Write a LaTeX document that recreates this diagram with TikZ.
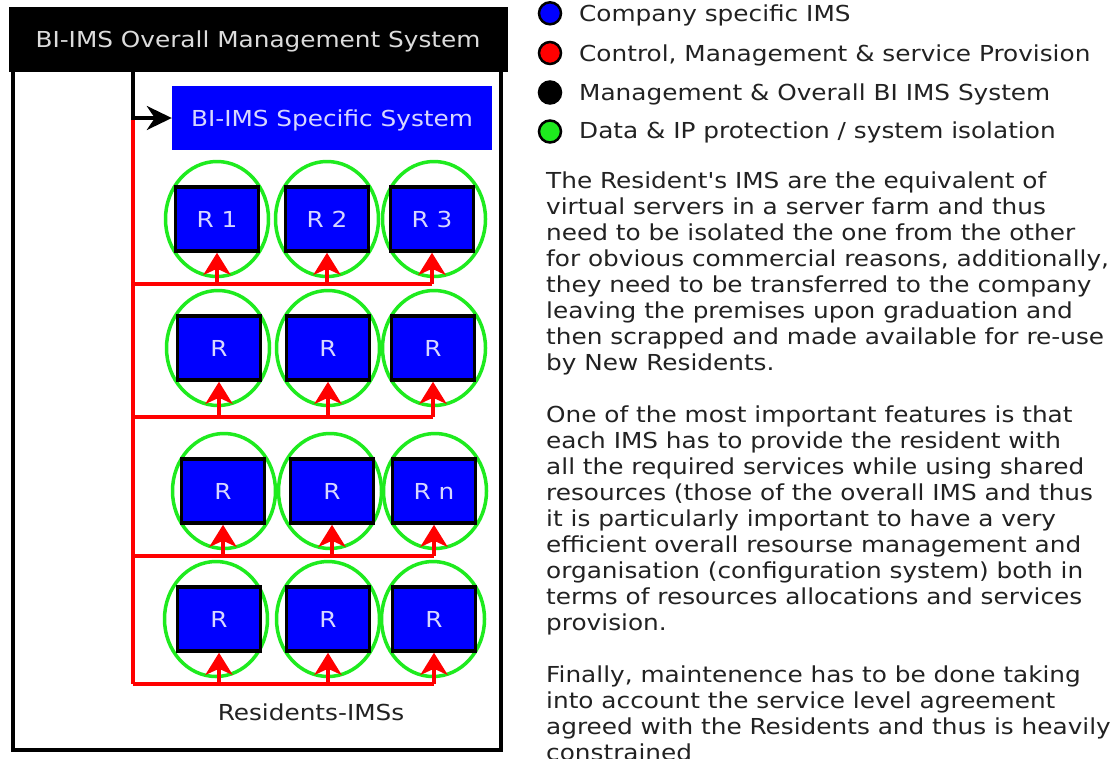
\documentclass[tikz,border=0pt]{standalone}
\usepackage{fontspec}
\newfontfamily\dv[FakeStretch=1.125]{DejaVu Sans}
\usetikzlibrary{arrows.meta,shapes.geometric}
\definecolor{bblue}{RGB}{0,0,255}
\definecolor{rred}{RGB}{255,0,0}
\definecolor{ggreen}{RGB}{30,235,30}
\definecolor{txt}{RGB}{34,34,34}
\definecolor{hdtxt}{RGB}{220,220,220}
\definecolor{bxtxt}{RGB}{215,215,255}
\begin{document}
\begin{tikzpicture}[x=1pt,y=-1pt,
  font=\dv\fontsize{22}{26}\selectfont,
  rbox/.style={draw=black, line width=3.5pt, fill=bblue, minimum width=83pt, minimum height=64pt, inner sep=0pt, text=bxtxt, text height=16pt, text depth=0pt},
  iso/.style={draw=ggreen, line width=3.5pt, ellipse, minimum width=103pt, minimum height=115pt, inner sep=0pt},
  bus/.style={draw=rred, line width=4pt},
  feed/.style={draw=rred, line width=4pt, -{Stealth[length=22pt,width=27pt,inset=6pt]}},
  legdot/.style={circle, draw=black, line width=2.5pt, minimum size=22pt, inner sep=0pt},
  legtxt/.style={anchor=base west, inner sep=0pt, text=txt},
]
\useasboundingbox (0,0) rectangle (1110,758);
\fill[white] (0,0) rectangle (1110,758);

% frame and header
\draw[line width=3.5pt] (13,60) rectangle (501,750);
\node[fill=black, minimum width=499pt, minimum height=65pt, inner sep=0pt, text=hdtxt, text height=16pt, text depth=0pt] (hdr) at (258,39.5) {BI-IMS Overall Management System};
\node[fill=bblue, minimum width=320pt, minimum height=64pt, inner sep=0pt, text=bxtxt, text height=16pt, text depth=0pt] (spec) at (332,118) {BI-IMS Specific System};

\coordinate (top) at (133,72);
\coordinate (j) at (133,118);
\coordinate (bus1) at (133,284);
\coordinate (bus2) at (133,417);
\coordinate (bus3) at (133,556);
\coordinate (bus4) at (133,684);

% red bus
\draw[bus] (j) -- (bus4);

% rows
\foreach \r/\y/\by/\xa/\xb/\xc/\ea/\eb/\ec/\la/\lb/\lc in {
  1/219/284/217/327/432/217/327/434/R 1/R 2/R 3,
  2/348/417/219/328/433/218/328/434/R/R/R,
  3/491/556/223/332/434/224/330/435/R/R/R n,
  4/619/684/219/328/434/216/328/433/R/R/R}{
  \node[iso] (e\r a) at (\ea,\y) {};
  \node[iso] (e\r b) at (\eb,\y) {};
  \node[iso] (e\r c) at (\ec,\y) {};
  \node[rbox] (r\r a) at (\xa,\y) {\la};
  \node[rbox] (r\r b) at (\xb,\y) {\lb};
  \node[rbox] (r\r c) at (\xc,\y) {\lc};
  \coordinate (h\r) at (\xc,\by);
  \draw[bus] (bus\r) -- (h\r);
  \draw[feed] (r\r a.south |- bus\r) -- (r\r a.south);
  \draw[feed] (r\r b.south |- bus\r) -- (r\r b.south);
  \draw[feed] (r\r c.south |- bus\r) -- (r\r c.south);
}

% black arrow
\draw[line width=3.5pt, -{Stealth[length=25pt,width=24pt,inset=8pt]}] (top) -- (j) -- (spec.west);

\node[anchor=base, inner sep=0pt, text=txt] (res) at (311,720) {Residents-IMSs};

% legend
\node[legdot, fill=bblue] (l1) at (550,13.3) {};
\node[legdot, fill=rred] (l2) at (550,53) {};
\node[legdot, fill=black] (l3) at (550,92.5) {};
\node[legdot, fill=ggreen] (l4) at (550,131.5) {};
\node[legtxt] (t1) at (579,21.7) {Company specific IMS};
\node[legtxt] (t2) at (579,61) {Control, Management \& service Provision};
\node[legtxt] (t3) at (579,100) {Management \& Overall BI IMS System};
\node[legtxt] (t4) at (579,138.5) {Data \& IP protection / system isolation};

% paragraph text
\node[anchor=base west, inner sep=0pt, text=txt] (para) at (546,188) {\parbox[t]{600pt}{\fontsize{22}{26}\selectfont\raggedright
The Resident's IMS are the equivalent of\\
virtual servers in a server farm and thus\\
need to be isolated the one from the other\\
for obvious commercial reasons, additionally,\\
they need to be transferred to the company\\
leaving the premises upon graduation and\\
then scrapped and made available for re-use\\
by New Residents.\\[26pt]
One of the most important features is that\\
each IMS has to provide the resident with\\
all the required services while using shared\\
resources (those of the overall IMS and thus\\
it is particularly important to have a very\\
efficient overall resourse management and\\
organisation (configuration system) both in\\
terms of resources allocations and services\\
provision.\\[26pt]
Finally, maintenence has to be done taking\\
into account the service level agreement\\
agreed with the Residents and thus is heavily\\
constrained}};
\end{tikzpicture}
\end{document}
